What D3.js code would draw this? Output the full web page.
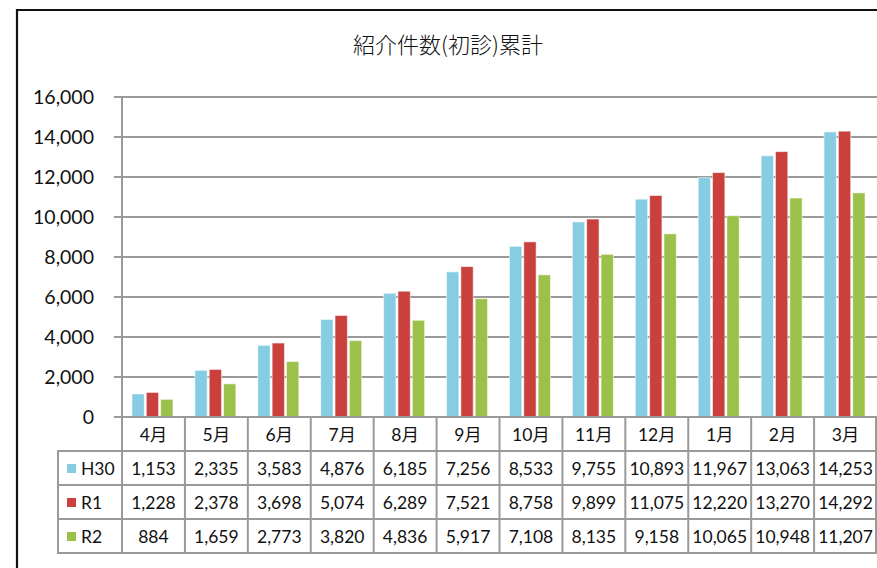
<!DOCTYPE html>
<html><head><meta charset="utf-8">
<script src="https://cdn.jsdelivr.net/npm/d3@7/dist/d3.min.js"></script>
<style>
html,body{margin:0;padding:0;background:#fff;}
svg{display:block;}
text{font-family:Lato,"Noto Sans CJK JP",sans-serif;fill:#111;}
</style></head>
<body><svg id="c" width="877" height="568"></svg>
<script>
const title = "紹介件数(初診)累計";
const months = ["4月","5月","6月","7月","8月","9月","10月","11月","12月","1月","2月","3月"];
const seriesNames = ["H30","R1","R2"];
const h30 = [1153,2335,3583,4876,6185,7256,8533,9755,10893,11967,13063,14253];
const r1  = [1228,2378,3698,5074,6289,7521,8758,9899,11075,12220,13270,14292];
const r2  = [884,1659,2773,3820,4836,5917,7108,8135,9158,10065,10948,11207];
const yTicks = [0,2000,4000,6000,8000,10000,12000,14000,16000];
const colors = ["#86CDE3","#C9403D","#9CC14B"];

(function(){
const seriesVals = [h30, r1, r2];
const svg = d3.select("#c");
const W = 877, H = 568;
const pL = 122, pR = 877, pT = 97, pB = 417;
const rowH = 34, legendLeft = 58;
const gridCol = "#9a9a9a";

// outer frame
svg.append("path").attr("d", `M17,${H+5} L17,10 L${W+5},10`)
  .attr("fill","none").attr("stroke","#111").attr("stroke-width",2.2);

// title
svg.append("text").attr("x", 448).attr("y", 53).attr("text-anchor","middle")
  .style("font-family","'Noto Sans CJK JP'").style("font-weight",300)
  .style("font-size","22px").text(title);

const x = d3.scaleBand().domain(months).range([pL, pR]).padding(0);
const y = d3.scaleLinear().domain([0,16000]).range([pB, pT]);
const inner = d3.scaleBand().domain(seriesNames).range([-20.5, 20.5]).paddingInner(0.14);

// gridlines + ticks
svg.append("g").selectAll("line").data(yTicks).join("line")
  .attr("x1", 114).attr("x2", pR).attr("y1", d=>y(d)).attr("y2", d=>y(d))
  .attr("stroke", gridCol).attr("stroke-width", 2);
svg.append("g").selectAll("text").data(yTicks).join("text")
  .attr("x", 94).attr("y", d=>y(d)).attr("dy","0.36em").attr("text-anchor","end")
  .style("font-size","19.5px").text(d=>d3.format(",")(d));

// bars
months.forEach((m, i) => {
  const cx = x(m) + x.bandwidth()/2 - 1;
  seriesNames.forEach((s, k) => {
    const v = seriesVals[k][i];
    svg.append("rect")
      .attr("x", cx + inner(s)).attr("width", inner.bandwidth())
      .attr("y", y(v)).attr("height", pB - y(v))
      .attr("fill", colors[k]).attr("stroke","rgba(255,255,255,0.55)").attr("stroke-width",1);
  });
});

// axis lines
svg.append("line").attr("x1", pL).attr("x2", pL).attr("y1", pT).attr("y2", pB)
  .attr("stroke", gridCol).attr("stroke-width", 2);
svg.append("line").attr("x1", 114).attr("x2", pR).attr("y1", pB).attr("y2", pB)
  .attr("stroke", gridCol).attr("stroke-width", 2);

// data table
const tb = svg.append("g");
const tableBottom = pB + rowH*4;
const bounds = months.map(m => x(m)).concat([pR-1]);
bounds.forEach(b => tb.append("line").attr("x1", b).attr("x2", b).attr("y1", pB).attr("y2", tableBottom)
  .attr("stroke", gridCol).attr("stroke-width", 2));
tb.append("line").attr("x1", legendLeft).attr("x2", legendLeft).attr("y1", pB+rowH).attr("y2", tableBottom)
  .attr("stroke", gridCol).attr("stroke-width", 2);
for (let r = 1; r <= 4; r++) {
  tb.append("line").attr("x1", legendLeft-1).attr("x2", pR).attr("y1", pB + rowH*r).attr("y2", pB + rowH*r)
    .attr("stroke", gridCol).attr("stroke-width", 2);
}
tb.selectAll("text.h").data(months).join("text").attr("class","h")
  .attr("x", d => x(d) + x.bandwidth()/2).attr("y", pB + rowH/2 + 1).attr("dy","0.36em")
  .attr("text-anchor","middle").style("font-size","17.5px").text(d=>d);
seriesNames.forEach((s, k) => {
  const ry = pB + rowH*(k+1) + rowH/2 + 1;
  tb.append("rect").attr("x", 67).attr("y", ry - 5).attr("width", 9).attr("height", 9).attr("fill", colors[k]);
  tb.append("text").attr("x", 81).attr("y", ry).attr("dy","0.36em").style("font-size","17.5px").text(s);
  tb.selectAll("text.v"+k).data(seriesVals[k]).join("text").attr("class","v"+k)
    .attr("x", (d,i) => x(months[i]) + x.bandwidth()/2).attr("y", ry).attr("dy","0.36em")
    .attr("text-anchor","middle").style("font-size","17.5px").text(d=>d3.format(",")(d));
});
})();
</script></body></html>
